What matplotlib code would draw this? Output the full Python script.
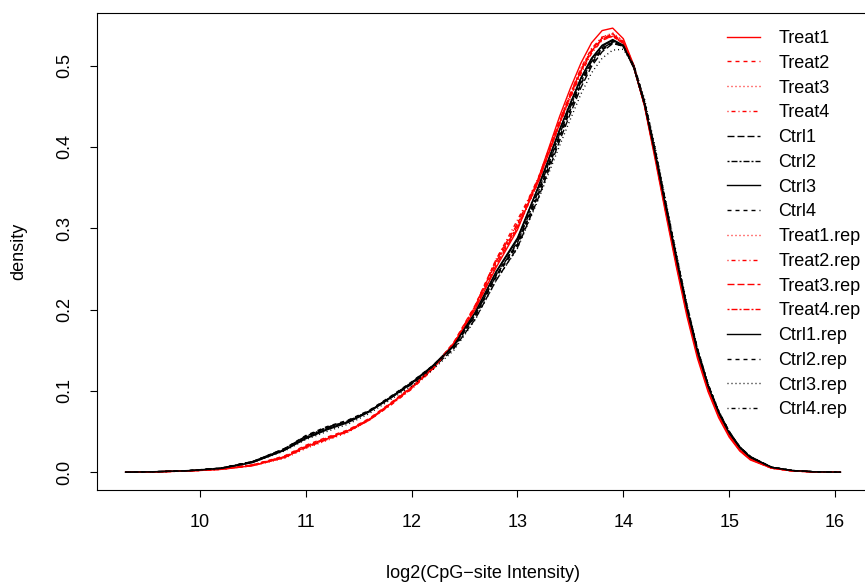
import matplotlib
matplotlib.use("Agg")
import matplotlib.pyplot as plt

plt.rcParams['font.family'] = ['Liberation Sans', 'DejaVu Sans']
plt.rcParams['lines.scale_dashes'] = False

x_grid = [9.3, 9.6, 9.9, 10.2, 10.5, 10.8, 11.0, 11.2, 11.4, 11.6, 11.8, 12.0, 12.2, 12.4,
          12.6, 12.8, 13.0, 13.2, 13.4, 13.5, 13.6, 13.7, 13.8, 13.9, 14.0, 14.1, 14.2,
          14.3, 14.4, 14.5, 14.6, 14.7, 14.8, 14.9, 15.0, 15.1, 15.2, 15.4, 15.6, 15.8, 16.05]

samples = ["Treat1", "Treat2", "Treat3", "Treat4", "Ctrl1", "Ctrl2", "Ctrl3", "Ctrl4",
           "Treat1.rep", "Treat2.rep", "Treat3.rep", "Treat4.rep",
           "Ctrl1.rep", "Ctrl2.rep", "Ctrl3.rep", "Ctrl4.rep"]

treat1 = [0, .0005, .0015, .0035, .008, .018, .031, .041, .051, .065, .084, .104, .128, .158, .200, .252, .298, .362, .438, .472, .503, .528, .543, .546, .533, .500, .450, .385,
          .318, .253, .192, .140, .099, .067, .043, .026, .015, .005, .0015, .0004, 0]
treat2 = [0, .0005, .0016, .0037, .009, .020, .033, .043, .052, .066, .085, .105, .128, .160, .205, .262, .305, .362, .432, .465, .495, .519, .534, .538, .528, .497, .451, .389,
          .323, .258, .197, .145, .103, .071, .046, .028, .017, .005, .0015, .0004, 0]
treat3 = [0, .0004, .0014, .0034, .008, .017, .029, .039, .049, .064, .083, .103, .127, .158, .203, .258, .300, .356, .428, .461, .492, .517, .533, .539, .530, .500, .453, .390,
          .323, .258, .197, .144, .102, .070, .045, .027, .016, .005, .0015, .0004, 0]
treat4 = [0, .0006, .0017, .004, .009, .019, .031, .041, .050, .064, .082, .102, .126, .157, .204, .262, .310, .360, .428, .460, .490, .515, .531, .536, .527, .498, .452, .389,
          .323, .258, .197, .145, .103, .071, .046, .028, .017, .005, .0015, .0004, 0]
ctrl1 = [0, .0007, .002, .005, .013, .029, .044, .055, .063, .075, .091, .108, .128, .152, .188, .236, .276, .338, .408, .441, .473, .499, .517, .527, .524, .500, .456, .397,
         .332, .267, .205, .152, .108, .075, .050, .031, .019, .006, .002, .0005, 0]
ctrl2 = [0, .0006, .0019, .0048, .013, .028, .043, .054, .062, .075, .092, .110, .130, .155, .193, .242, .282, .346, .416, .449, .480, .505, .521, .529, .523, .497, .453, .393,
         .328, .264, .203, .150, .107, .074, .049, .031, .019, .006, .002, .0005, 0]
ctrl3 = [0, .0006, .0018, .0045, .012, .027, .042, .053, .062, .075, .092, .110, .131, .157, .196, .246, .286, .351, .421, .453, .484, .508, .524, .531, .524, .497, .452, .391,
         .326, .262, .201, .148, .106, .073, .048, .030, .018, .006, .002, .0005, 0]
ctrl4 = [0, .0007, .002, .005, .013, .029, .045, .056, .064, .076, .093, .111, .131, .156, .193, .242, .280, .343, .413, .446, .478, .503, .520, .529, .524, .499, .455, .395,
         .330, .266, .204, .151, .108, .074, .049, .031, .019, .006, .002, .0005, 0]
treat1_rep = [0, .0005, .0015, .0036, .0085, .019, .032, .042, .051, .065, .084, .104, .128, .159, .203, .258, .303, .360, .432, .465, .496, .520, .535, .540, .530, .499, .452, .388,
              .321, .256, .196, .143, .101, .069, .045, .027, .016, .005, .0015, .0004, 0]
treat2_rep = [0, .0005, .0016, .0036, .0085, .019, .031, .041, .050, .064, .083, .103, .127, .158, .204, .260, .306, .363, .433, .466, .497, .521, .535, .539, .529, .498, .451, .387,
              .321, .256, .195, .143, .101, .069, .045, .027, .016, .005, .0015, .0004, 0]
treat3_rep = [0, .0005, .0015, .0035, .008, .018, .030, .040, .050, .064, .083, .103, .127, .158, .201, .255, .300, .358, .430, .463, .494, .518, .533, .537, .528, .498, .452, .389,
              .322, .257, .196, .144, .102, .070, .045, .027, .016, .005, .0015, .0004, 0]
treat4_rep = [0, .0005, .0016, .0037, .009, .019, .032, .042, .051, .065, .084, .104, .128, .159, .204, .259, .302, .358, .429, .462, .493, .517, .532, .536, .527, .497, .451, .388,
              .322, .257, .196, .144, .102, .070, .045, .027, .016, .005, .0015, .0004, 0]
ctrl1_rep = [0, .0006, .0018, .0046, .012, .027, .041, .052, .061, .074, .091, .109, .130, .156, .196, .247, .288, .352, .422, .454, .485, .509, .525, .532, .525, .497, .452, .391,
             .326, .262, .201, .148, .106, .073, .048, .030, .018, .006, .002, .0005, 0]
ctrl2_rep = [0, .0007, .002, .005, .013, .028, .044, .055, .063, .075, .092, .110, .130, .154, .191, .240, .279, .342, .412, .445, .477, .502, .519, .528, .524, .500, .456, .396,
             .331, .267, .205, .152, .108, .075, .050, .031, .019, .006, .002, .0005, 0]
ctrl3_rep = [0, .0006, .0018, .0045, .012, .026, .040, .050, .059, .072, .089, .106, .126, .150, .187, .236, .275, .336, .402, .434, .465, .491, .509, .519, .520, .500, .459, .400,
             .334, .270, .207, .153, .109, .076, .050, .031, .019, .006, .002, .0005, 0]
ctrl4_rep = [0, .0007, .0019, .0048, .013, .028, .044, .055, .063, .075, .092, .110, .130, .155, .193, .243, .283, .347, .417, .450, .481, .506, .522, .530, .524, .498, .454, .394,
             .329, .265, .203, .150, .107, .074, .049, .031, .019, .006, .002, .0005, 0]

series = [treat1, treat2, treat3, treat4, ctrl1, ctrl2, ctrl3, ctrl4,
          treat1_rep, treat2_rep, treat3_rep, treat4_rep,
          ctrl1_rep, ctrl2_rep, ctrl3_rep, ctrl4_rep]
colors = ["red"] * 4 + ["black"] * 4 + ["red"] * 4 + ["black"] * 4

# R line types 1..6 (in points at 100 dpi)
p = 0.72
lty = {
    1: "-",
    2: (0, (4 * p, 4 * p)),
    3: (0, (1 * p, 3 * p)),
    4: (0, (1 * p, 3 * p, 4 * p, 3 * p)),
    5: (0, (7 * p, 3 * p)),
    6: (0, (2 * p, 2 * p, 6 * p, 2 * p)),
}
styles = [lty[(i % 6) + 1] for i in range(16)]

fig = plt.figure(figsize=(8.65, 5.84), dpi=100)
L, R, T, B = 97, 869, 13, 490
ax = fig.add_axes([L / 865, 1 - B / 584, (R - L) / 865, (B - T) / 584])

for name, ys, c, ls in zip(samples, series, colors, styles):
    ax.plot(x_grid, ys, color=c, linestyle=ls, linewidth=1.0, label=name)

ax.set_xlim(9.03, 16.32)
ax.set_ylim(-0.0219, 0.5646)
ax.set_xticks([10, 11, 12, 13, 14, 15, 16])
ax.set_yticks([0.0, 0.1, 0.2, 0.3, 0.4, 0.5])
ax.set_yticklabels(["0.0", "0.1", "0.2", "0.3", "0.4", "0.5"], rotation=90, va="center")
ax.tick_params(direction="out", length=5, width=0.8, labelsize=13, pad=12)
for s in ax.spines.values():
    s.set_linewidth(0.8)

fig.text(483 / 865, 1 - 573 / 584, "log2(CpG\u2212site Intensity)", ha="center", va="center", fontsize=13)
fig.text(19 / 865, 1 - 251 / 584, "density", ha="center", va="center", rotation=90, fontsize=13)

leg = ax.legend(loc="upper left", bbox_to_anchor=(727 / 865, 1 - 30 / 584),
                bbox_transform=fig.transFigure, frameon=False, fontsize=13,
                handlelength=1.85, handletextpad=1.0, labelspacing=0.43,
                borderpad=0, borderaxespad=0)

fig.savefig("out.png", dpi=100)
